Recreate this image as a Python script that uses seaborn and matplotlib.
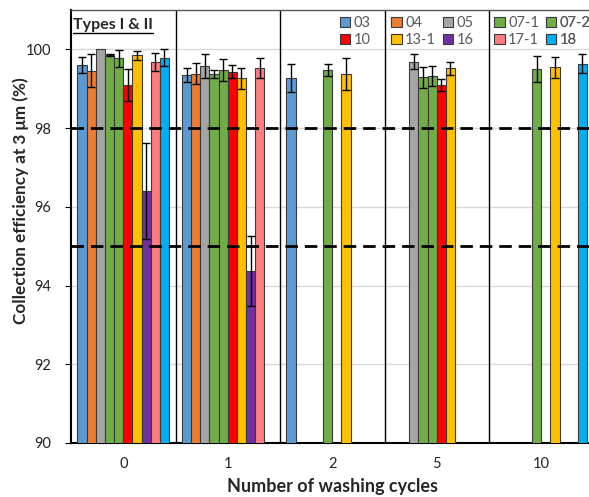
import matplotlib
matplotlib.use("Agg")
import matplotlib.pyplot as plt
import seaborn as sns
import pandas as pd
import numpy as np
from matplotlib.patches import Patch
from matplotlib.lines import Line2D

# ---------------- data ----------------
cycles = ["0", "1", "2", "5", "10"]
series = ["03", "04", "05", "07-1", "07-2", "10", "13-1", "16", "17-1", "18"]
colors = ["#5B9BD5", "#ED7D31", "#A5A5A5", "#70AD47", "#70AD47",
          "#FF0000", "#FFC000", "#7030A0", "#FF7C80", "#00B0F0"]

# values per series, for cycles 0, 1, 2, 5, 10 (None = not measured)
vals = {
    "03":   [99.61, 99.35, 99.27, None, None],
    "04":   [99.46, 99.38, None, None, None],
    "05":   [100.0, 99.57, None, 99.69, None],
    "07-1": [99.86, 99.38, None, 99.29, None],
    "07-2": [99.77, 99.48, 99.48, 99.32, 99.49],
    "10":   [99.09, 99.43, None, 99.09, None],
    "13-1": [99.85, 99.26, 99.38, 99.52, 99.54],
    "16":   [96.40, 94.37, None, None, None],
    "17-1": [99.68, 99.52, None, None, None],
    "18":   [99.79, None, None, None, 99.64],
}
errs = {
    "03":   [0.20, 0.18, 0.36, None, None],
    "04":   [0.42, 0.27, None, None, None],
    "05":   [0.0, 0.30, None, 0.20, None],
    "07-1": [0.03, 0.10, None, 0.26, None],
    "07-2": [0.21, 0.28, 0.16, 0.26, 0.33],
    "10":   [0.40, 0.17, None, 0.16, None],
    "13-1": [0.12, 0.26, 0.40, 0.17, 0.26],
    "16":   [1.23, 0.89, None, None, None],
    "17-1": [0.24, 0.26, None, None, None],
    "18":   [0.22, None, None, None, 0.24],
}
thresholds = [98, 95]

rows = []
for s in series:
    for c, v, e in zip(cycles, vals[s], errs[s]):
        if v is not None:
            rows.append({"cycle": c, "series": s, "value": v, "err": e})
df = pd.DataFrame(rows)

# ---------------- plot ----------------
sns.set_style("white")
plt.rcParams["font.family"] = ["Lato", "DejaVu Sans"]

fig = plt.figure(figsize=(5.89, 4.97), dpi=100)
ax = fig.add_axes([71 / 589, 1 - 443 / 497, 522.5 / 589, 433 / 497])

bar_width = 0.877
sns.barplot(data=df, x="cycle", y="value", hue="series", order=cycles,
            hue_order=series, palette=colors, saturation=1, width=bar_width,
            gap=0, edgecolor="#3a3a3a", linewidth=0.8, errorbar=None, ax=ax,
            legend=False, zorder=3)

# error bars from patch positions
n = len(series)
lookup = {(r.cycle, r.series): r.err for r in df.itertuples()}
for p in ax.patches:
    h = p.get_height()
    if not np.isfinite(h) or p.get_width() == 0:
        continue
    xc = p.get_x() + p.get_width() / 2
    ci = int(round(xc))
    hi = int(round((xc - ci + bar_width / 2) / (bar_width / n) - 0.5))
    if 0 <= ci < len(cycles) and 0 <= hi < n:
        e = lookup.get((cycles[ci], series[hi]))
        if e is not None and e > 0:
            ax.errorbar(xc, p.get_y() + h, yerr=e, fmt="none", ecolor="black",
                        elinewidth=1.0, capsize=3, capthick=1.0, zorder=4)

for t in thresholds:
    ax.axhline(t, color="black", lw=2.0, dashes=(4.5, 2.5), zorder=5)

for i in range(1, len(cycles)):
    ax.axvline(i - 0.5, color="black", lw=1.0, zorder=2)

ax.set_ylim(90, 101)
ax.set_xlim(-0.5, len(cycles) - 0.5)
ax.set_yticks(np.arange(90, 101, 2))
ax.yaxis.grid(True, color="#d9d9d9", lw=1.0, zorder=0)
ax.set_axisbelow(True)
ax.tick_params(axis="y", labelsize=10.5, length=4, direction="out", left=True,
               colors="black", pad=10)
ax.tick_params(axis="x", labelsize=10.5, length=0, pad=10)
for lab in ax.get_yticklabels() + ax.get_xticklabels():
    lab.set_color("#222222")

ax.set_xlabel("Number of washing cycles", fontsize=13, fontweight="bold",
              labelpad=5)
ax.set_ylabel("Collection efficiency at 3 μm (%)", fontsize=12.3,
              fontweight="bold")
ax.yaxis.set_label_coords(-0.081, 0.56)

for side in ["left", "bottom"]:
    ax.spines[side].set_color("black")
    ax.spines[side].set_linewidth(1.5)
ax.spines["top"].set_color("#555555")
ax.spines["top"].set_linewidth(1.0)
ax.spines["right"].set_visible(False)

# legend: 5 uniform columns, 2 rows (row-major order)
half = n // 2
col_step = 51.5
for j in range(half):
    idx = [j, j + half]
    hs = [Patch(facecolor=colors[k], edgecolor="#3a3a3a", linewidth=0.8)
          for k in idx]
    leg = ax.legend(hs, [series[k] for k in idx], ncol=1, frameon=False,
                    loc="upper left",
                    bbox_to_anchor=((334 + j * col_step) / 589, 1 - 10 / 497),
                    bbox_transform=fig.transFigure,
                    fontsize=10.5, handlelength=0.7, handleheight=0.7,
                    handletextpad=0.25, labelspacing=0.22,
                    borderaxespad=0, labelcolor="#595959")
    ax.add_artist(leg)

# header text with underline
txt = fig.text(73 / 589, 1 - 25 / 497, "Types I & II", fontsize=11.5,
               fontweight="bold", va="center", ha="left")
fig.canvas.draw()
bb = txt.get_window_extent(renderer=fig.canvas.get_renderer())
inv = fig.transFigure.inverted()
(x0, y0), (x1, y1) = inv.transform([(bb.x0, bb.y0), (bb.x1, bb.y1)])
fig.add_artist(Line2D([x0, x1], [y0 - 0.003, y0 - 0.003],
                      transform=fig.transFigure, color="black", lw=1.0))

fig.savefig("out.png", dpi=100)
